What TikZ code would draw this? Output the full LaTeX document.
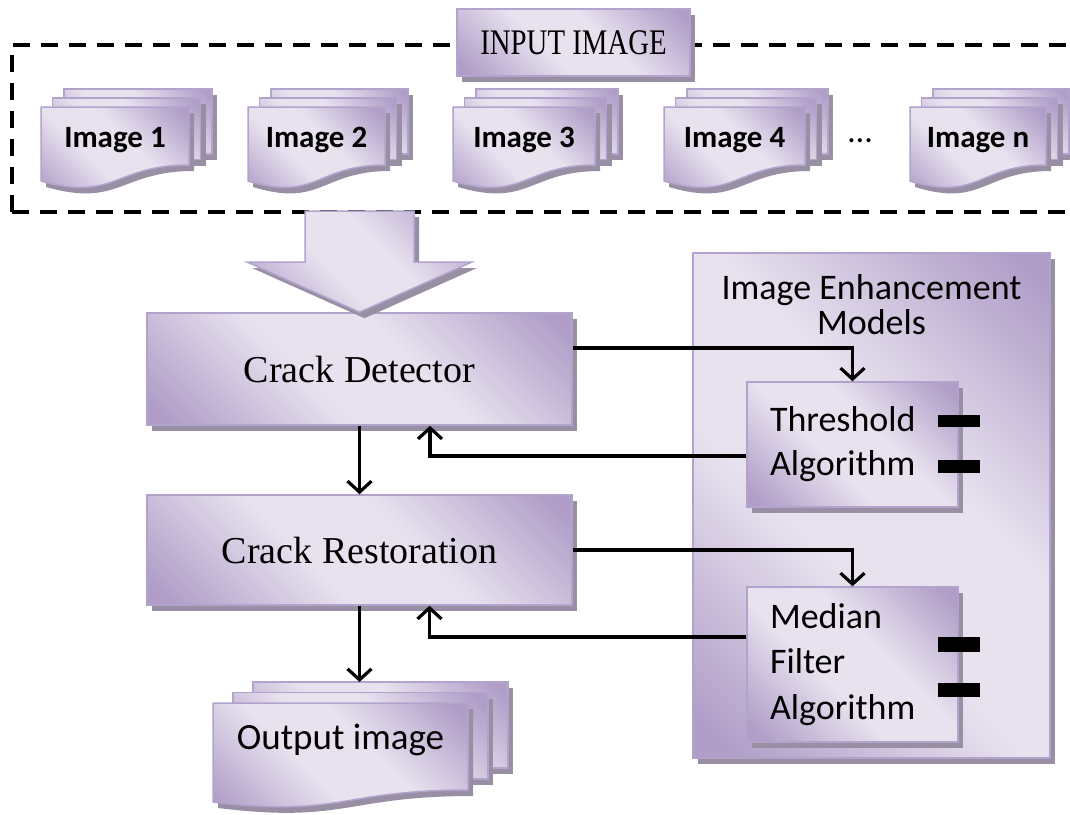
\documentclass[tikz,border=0pt]{standalone}
\usepackage{fontspec}
\setmainfont{Liberation Serif}
\newfontfamily\calfont{Carlito}
\usetikzlibrary{shadows,arrows.meta,calc}
\definecolor{plight}{RGB}{232,226,239}
\definecolor{pdark}{RGB}{176,158,200}
\definecolor{bordc}{RGB}{178,163,204}
\definecolor{shcol}{RGB}{152,143,165}
\pgfdeclarehorizontalshading{office}{100bp}{color(0bp)=(pdark); color(18bp)=(pdark); color(42bp)=(plight); color(58bp)=(plight); color(82bp)=(pdark); color(100bp)=(pdark)}
\tikzset{
 shd/.style={drop shadow={shadow xshift=5pt, shadow yshift=-6pt, opacity=1, fill=shcol}},
 pfill/.style={draw=bordc, line width=1.5pt, shade, shading=office, shading angle=45, shd},
 pbox/.style={pfill, inner sep=0pt, rectangle},
 serifbig/.style={font=\fontsize{38}{40}\selectfont},
 sanstext/.style={font=\calfont\fontsize{36}{44}\selectfont},
 doctext/.style={font=\calfont\bfseries\fontsize{31}{31}\selectfont},
 arr/.style={line width=3.2pt, -{Straight Barb[length=11pt,width=24pt]}},
 dframe/.style={line width=3.5pt, dash pattern=on 17pt off 11pt},
 bar/.style={fill=black, inner sep=0pt, minimum width=42pt},
}
\newcommand\backsheet[4]{\path[pfill] ({#1},{#3}) rectangle ({#2},{#4});}
\newcommand\frontsheet[5]{\path[pfill] ({#1},{#3}) -- ({#2},{#3}) -- ({#2},{#4}) .. controls ({(#1+#2)/2},{#4}) and ({(#1+#2)/2},{#5+1.31*(#5-#4)}) .. ({#1},{#5}) -- cycle;}
\newcommand\mstack[9]{%
 \backsheet{#2+2*#7}{#3+2*#7}{#4-2*#8}{#5-2*\mdrop}
 \backsheet{#2+#7}{#3+#7}{#4-#8}{#5-\mdrop}
 \frontsheet{#2}{#3}{#4}{#5}{#6}
 \node[doctext] (#1) at ({(#2+#3)/2},{\mtexty}) {#9};}
\begin{document}
\begin{tikzpicture}[x={(1pt,0)}, y={(0,-1pt)}]
\useasboundingbox (0,0) rectangle (1070,814);
% dashed frame
\draw[dframe] (12,212) -- (12,45) -- (1075,45);
\draw[dframe] (12,212) -- (1075,212);
% input label
\node[pbox, minimum width=233pt, minimum height=67pt, font=\fontsize{36}{36}\selectfont] (inp) at (573.5,42.5) {\scalebox{0.8}[1]{INPUT IMAGE}};
% input images
\def\mdrop{5.5}\def\mtexty{140}
\mstack{im1}{41}{189}{107}{165}{181}{11.5}{9}{Image 1}
\mstack{im2}{248}{385}{107}{165}{181}{11.5}{9}{Image 2}
\mstack{im3}{453}{595}{107}{165}{181}{11.5}{9}{Image 3}
\mstack{im4}{664}{805}{107}{165}{181}{11.5}{9}{Image 4}
\mstack{imn}{910}{1046}{107}{165}{181}{11.5}{9}{Image n}
\node[font=\calfont\fontsize{34}{34}\selectfont] (dots) at (860,141) {…};
% crack detector and big arrow
\node[pbox, minimum width=425pt, minimum height=112pt, serifbig] (cd) at (359.5,369) {Crack Detector};
\path[pfill] (305,211) -- (414,211) -- (414,262) -- (472,262) -- (cd.north) -- (247,262) -- (305,262) -- cycle;
\node[pbox, minimum width=425pt, minimum height=110pt, serifbig] (cr) at (359.5,550) {Crack Restoration};
% output images
\def\mdrop{11}\def\mtexty{740}
\mstack{out}{213}{468}{703}{790}{802}{20}{10.5}{\mdseries\fontsize{37}{37}\selectfont Output image}
\coordinate (otop) at (359.5,682);
% enhancement models
\node[pbox, minimum width=357pt, minimum height=505pt] (iem) at (871.5,505.5) {};
\node[align=center, font=\calfont\fontsize{36}{35}\selectfont] (iemt) at (871.5,304.5) {Image Enhancement\\Models};
\node[pbox, minimum width=211pt, minimum height=125pt, text width=165pt, inner xsep=23pt, align=left, sanstext] (th) at (852.5,444.5) {Threshold\\Algorithm};
\node[pbox, minimum width=211pt, minimum height=155pt, text width=165pt, inner xsep=23pt, align=left, font=\calfont\fontsize{36}{45.5}\selectfont] (med) at (852.5,664.5) {Median\\Filter\\Algorithm};
\node[bar, minimum height=12pt] (b1) at (959,421) {};
\node[bar, minimum height=13pt] (b2) at (959,466.5) {};
\node[bar, minimum height=15pt] (b3) at (959,644.5) {};
\node[bar, minimum height=14pt] (b4) at (959,690) {};
% connectors
\draw[arr] (cd.south) -- (cr.north);
\draw[arr] ([yshift=21pt]cd.east) -| (th.north);
\draw[arr] ([yshift=-11.5pt]th.west) -| ([xshift=70.5pt]cd.south);
\draw[arr] (cr.east) -| (med.north);
\draw[arr] ([yshift=27.5pt]med.west) -| ([xshift=70pt]cr.south);
\draw[arr] (cr.south) -- (otop);
\end{tikzpicture}
\end{document}
